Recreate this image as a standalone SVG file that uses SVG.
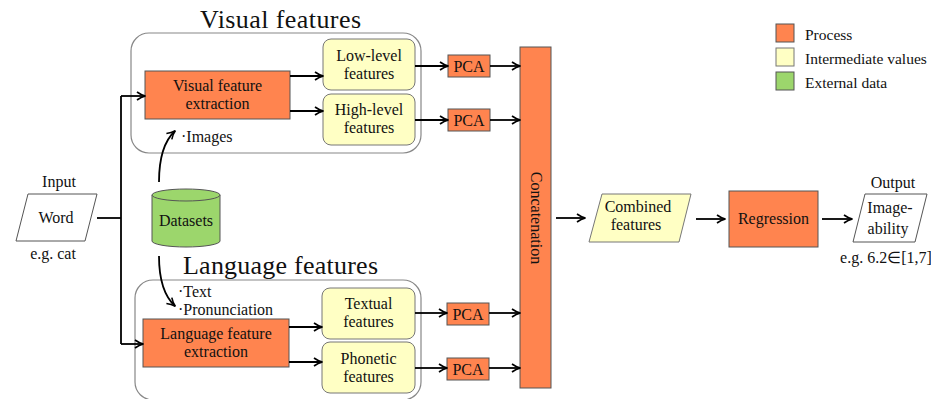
<svg xmlns="http://www.w3.org/2000/svg" width="931" height="399" viewBox="0 0 931 399" font-family="'Liberation Serif', 'Times New Roman', serif">
<style>
text{font-family:'Liberation Serif','Times New Roman',serif;fill:#111;}
.t{font-size:16px;text-anchor:middle;}
.title{font-size:26px;text-anchor:middle;}
.lg{font-size:15.5px;}
.proc{fill:#FF844F;stroke:#555;stroke-width:1;}
.inter{fill:#FFFFC4;stroke:#777;stroke-width:1;}
.ext{fill:#9CD66C;stroke:#555;stroke-width:1;}
.cont{fill:none;stroke:#888;stroke-width:1.2;}
.io{fill:#fff;stroke:#555;stroke-width:1;}
.c{fill:none;stroke:#000;stroke-width:1.8;}
.a{fill:none;stroke:#000;stroke-width:1.8;marker-end:url(#ah);}
</style>
<defs>
<marker id="ah" viewBox="0 0 10 10" refX="9" refY="5" markerWidth="10" markerHeight="10" markerUnits="userSpaceOnUse" orient="auto">
<path d="M1,1 Q5,4 9.5,5 Q5,6 1,9" fill="none" stroke="#000" stroke-width="1.6"/>
</marker>
</defs>

<g id="visual-group">
<text class="title" x="280.5" y="28" textLength="161">Visual features</text>
<rect class="cont" x="131" y="33" width="290" height="120" rx="18"/>
</g>
<g id="language-group">
<text class="title" x="280.5" y="274" textLength="195">Language features</text>
<rect class="cont" x="135" y="280" width="286" height="120" rx="18"/>
</g>

<g id="input">
<text class="t" x="59" y="187">Input</text>
<polygon class="io" points="28,194 97,194 85,241 16,241"/>
<text class="t" x="56" y="223">Word</text>
<text class="t" x="53" y="259">e.g. cat</text>
</g>

<g id="datasets">
<path class="ext" d="M152,195 L152,241 A34,6 0 0 0 220,241 L220,195"/>
<ellipse class="ext" cx="186" cy="195" rx="34" ry="6"/>
<text class="t" x="186" y="226">Datasets</text>
</g>

<g id="visual-extraction">
<rect class="proc" x="145" y="71" width="145" height="48"/>
<text class="t" x="217.5" y="91">Visual feature</text>
<text class="t" x="217.5" y="109">extraction</text>
</g>
<g id="low-level">
<rect class="inter" x="323" y="39" width="92" height="51" rx="8"/>
<text class="t" x="369" y="61">Low-level</text>
<text class="t" x="369" y="79">features</text>
</g>
<g id="high-level">
<rect class="inter" x="323" y="94" width="92" height="51" rx="8"/>
<text class="t" x="369" y="115">High-level</text>
<text class="t" x="369" y="133">features</text>
</g>
<g id="pca1"><rect class="proc" x="448" y="55" width="42" height="22"/><text class="t" x="469" y="71.5">PCA</text></g>
<g id="pca2"><rect class="proc" x="448" y="109" width="42" height="22"/><text class="t" x="469" y="125.5">PCA</text></g>

<g id="language-extraction">
<rect class="proc" x="143" y="319" width="146" height="48"/>
<text class="t" x="216" y="339">Language feature</text>
<text class="t" x="216" y="357">extraction</text>
</g>
<g id="textual">
<rect class="inter" x="322" y="288" width="93" height="51" rx="8"/>
<text class="t" x="368.5" y="309">Textual</text>
<text class="t" x="368.5" y="327">features</text>
</g>
<g id="phonetic">
<rect class="inter" x="322" y="342" width="93" height="51" rx="8"/>
<text class="t" x="368.5" y="364">Phonetic</text>
<text class="t" x="368.5" y="382">features</text>
</g>
<g id="pca3"><rect class="proc" x="447" y="303" width="42" height="22"/><text class="t" x="468" y="319.5">PCA</text></g>
<g id="pca4"><rect class="proc" x="447" y="358" width="42" height="22"/><text class="t" x="468" y="374.5">PCA</text></g>

<g id="concatenation">
<rect class="proc" x="520" y="47" width="31" height="341"/>
<text class="t" transform="translate(531,218) rotate(90)" x="0" y="0">Concatenation</text>
</g>
<g id="combined">
<polygon class="inter" points="602,194 691,194 679,242 589,242"/>
<text class="t" x="638" y="212">Combined</text>
<text class="t" x="636" y="230">features</text>
</g>
<g id="regression">
<rect class="proc" x="729" y="191" width="89" height="56"/>
<text class="t" x="773.5" y="224">Regression</text>
</g>
<g id="output">
<text class="t" x="893" y="188">Output</text>
<polygon class="io" points="865,194 927,194 915,242 853,242"/>
<text class="t" x="890" y="213">Image-</text>
<text class="t" x="888" y="234">ability</text>
<text class="t" x="886" y="263">e.g. 6.2∈[1,7]</text>
</g>

<g id="labels">
<text class="t" x="181" y="142" style="text-anchor:start">·Images</text>
<text class="t" x="178" y="297" style="text-anchor:start">·Text</text>
<text class="t" x="178" y="315" style="text-anchor:start">·Pronunciation</text>
</g>

<g id="legend">
<rect class="proc" x="776" y="24" width="18" height="18"/>
<text class="lg" x="805" y="40">Process</text>
<rect class="inter" x="776" y="48" width="18" height="18"/>
<text class="lg" x="805" y="64">Intermediate values</text>
<rect class="ext" x="776" y="72" width="18" height="18"/>
<text class="lg" x="805" y="88">External data</text>
</g>

<g id="connectors">
<path class="c" d="M97,218 H121"/>
<path class="c" d="M121,96 V344"/>
<path class="a" d="M121,96 H145"/>
<path class="a" d="M121,344 H143"/>
<path class="a" d="M290,76 H323"/>
<path class="a" d="M290,111 H323"/>
<path class="a" d="M415,66 H448"/>
<path class="a" d="M415,120 H448"/>
<path class="a" d="M490,66 H520"/>
<path class="a" d="M490,120 H520"/>
<path class="a" d="M289,327 H322"/>
<path class="a" d="M289,362 H322"/>
<path class="a" d="M415,313 H447"/>
<path class="a" d="M415,368 H447"/>
<path class="a" d="M489,313 H520"/>
<path class="a" d="M489,368 H520"/>
<path class="a" d="M556,218 H585"/>
<path class="a" d="M696,219 H725"/>
<path class="a" d="M822,219 H852"/>
<path class="a" d="M159,182 C159,160 163,142 175,131"/>
<path class="a" d="M159,256 C159,278 163,295 175,306"/>
</g>
</svg>
